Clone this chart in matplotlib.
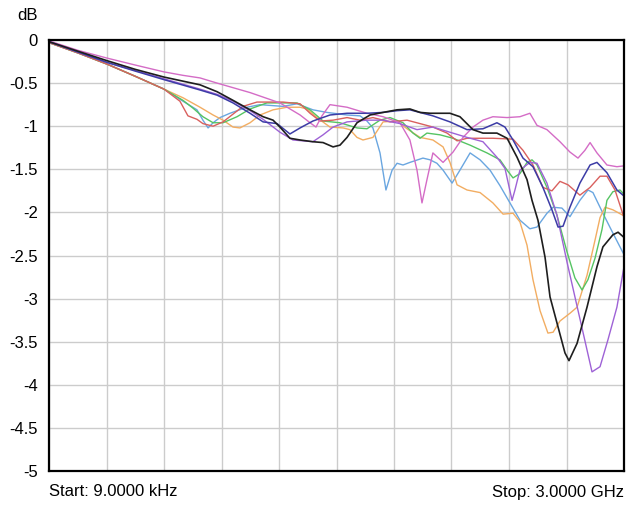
import matplotlib.pyplot as plt
import numpy as np

# frequency in MHz (9 kHz .. 3 GHz), level in dB
black_f = [0, 151, 303, 449, 600, 788, 877, 960, 1049, 1117, 1169, 1205, 1257, 1310, 1377, 1430, 1482, 1518, 1555, 1607,
           1675, 1743, 1816, 1883, 1936, 1988, 2092, 2144, 2212, 2264, 2337, 2390, 2442, 2494, 2520, 2551, 2588, 2614,
           2650, 2692, 2713, 2755, 2807, 2859, 2890, 2942, 2969, 3000]
black_db = [-0.02, -0.13, -0.24, -0.34, -0.43, -0.52, -0.60, -0.70, -0.81, -0.89, -0.93, -1.01, -1.14, -1.16, -1.18,
            -1.19, -1.24, -1.22, -1.13, -0.96, -0.87, -0.84, -0.81, -0.80, -0.84, -0.85, -0.85, -0.89, -1.04, -1.08,
            -1.08, -1.14, -1.36, -1.62, -1.86, -2.09, -2.52, -2.98, -3.28, -3.63, -3.72, -3.52, -3.10, -2.63, -2.40,
            -2.26, -2.23, -2.29]

navy_f = [0, 151, 303, 449, 600, 788, 877, 960, 1049, 1117, 1190, 1257, 1310, 1377, 1466, 1555, 1659, 1743, 1816, 1883,
          2003, 2092, 2181, 2264, 2337, 2379, 2421, 2473, 2525, 2577, 2624, 2656, 2682, 2718, 2770, 2823, 2859, 2911,
          2963, 3000]
navy_db = [-0.02, -0.14, -0.26, -0.36, -0.46, -0.58, -0.64, -0.73, -0.85, -0.95, -0.97, -1.09, -1.02, -0.94, -0.87,
           -0.85, -0.85, -0.84, -0.82, -0.81, -0.88, -0.95, -1.04, -1.03, -0.96, -1.01, -1.16, -1.37, -1.47, -1.71,
           -1.97, -2.17, -2.16, -1.94, -1.66, -1.45, -1.42, -1.54, -1.74, -1.81]

purple_f = [0, 303, 600, 788, 877, 960, 1049, 1117, 1205, 1273, 1377, 1430, 1482, 1555, 1659, 1743, 1831, 1920, 2003,
            2092, 2181, 2264, 2337, 2379, 2416, 2431, 2457, 2509, 2546, 2598, 2650, 2703, 2744, 2786, 2833, 2875, 2916,
            2963, 3000]
purple_db = [-0.02, -0.26, -0.45, -0.57, -0.63, -0.71, -0.82, -0.92, -1.07, -1.16, -1.18, -1.10, -1.01, -0.95, -0.93,
             -0.93, -0.97, -1.04, -1.01, -1.07, -1.13, -1.18, -1.36, -1.49, -1.86, -1.74, -1.51, -1.42, -1.43, -1.66,
             -2.03, -2.58, -2.98, -3.39, -3.85, -3.79, -3.48, -3.10, -2.63]

pink_f = [0, 151, 303, 449, 600, 699, 788, 877, 1049, 1205, 1310, 1362, 1393, 1424, 1466, 1555, 1659, 1743, 1831, 1883,
          1920, 1946, 1972, 2003, 2056, 2108, 2160, 2212, 2264, 2316, 2390, 2457, 2509, 2546, 2598, 2666, 2718, 2760,
          2796, 2823, 2859, 2911, 2963, 3000]
pink_db = [-0.01, -0.12, -0.21, -0.29, -0.37, -0.41, -0.44, -0.50, -0.61, -0.73, -0.87, -0.96, -1.01, -0.88, -0.75,
           -0.78, -0.85, -0.89, -0.96, -1.16, -1.51, -1.89, -1.62, -1.31, -1.42, -1.30, -1.13, -1.01, -0.93, -0.89,
           -0.90, -0.89, -0.85, -0.99, -1.04, -1.18, -1.30, -1.37, -1.28, -1.19, -1.31, -1.45, -1.47, -1.46]

red_f = [0, 151, 303, 449, 600, 683, 725, 772, 803, 856, 908, 960, 1012, 1085, 1221, 1310, 1362, 1414, 1482, 1555,
         1623, 1690, 1779, 1868, 1936, 2003, 2077, 2129, 2181, 2316, 2421, 2473, 2525, 2577, 2624, 2666, 2708, 2770,
         2823, 2875, 2911, 2953, 3000]
red_db = [-0.03, -0.15, -0.28, -0.42, -0.57, -0.71, -0.88, -0.92, -0.97, -1.00, -0.95, -0.86, -0.77, -0.72, -0.72,
          -0.74, -0.85, -0.94, -0.93, -0.90, -0.93, -0.90, -0.95, -0.93, -0.97, -1.01, -1.08, -1.17, -1.14, -1.14,
          -1.15, -1.28, -1.45, -1.71, -1.75, -1.64, -1.68, -1.80, -1.71, -1.58, -1.58, -1.74, -2.06]

orange_f = [0, 151, 303, 449, 600, 699, 788, 856, 908, 960, 996, 1049, 1101, 1169, 1242, 1310, 1346, 1398, 1466, 1534,
            1570, 1607, 1638, 1690, 1743, 1816, 1868, 1936, 2003, 2056, 2092, 2129, 2181, 2249, 2316, 2369, 2421, 2457,
            2494, 2525, 2562, 2603, 2630, 2666, 2718, 2755, 2807, 2849, 2875, 2901, 2942, 3000]
orange_db = [-0.03, -0.15, -0.28, -0.42, -0.57, -0.67, -0.78, -0.87, -0.93, -1.01, -1.02, -0.96, -0.87, -0.81, -0.78,
             -0.78, -0.80, -0.90, -1.01, -1.02, -1.04, -1.13, -1.16, -1.13, -0.95, -0.94, -1.03, -1.13, -1.16, -1.24,
             -1.42, -1.68, -1.74, -1.77, -1.89, -2.02, -2.01, -2.11, -2.38, -2.78, -3.14, -3.40, -3.39, -3.26, -3.17,
             -3.10, -2.73, -2.32, -2.06, -1.94, -1.97, -2.04]

green_f = [0, 151, 303, 449, 600, 699, 751, 803, 856, 908, 981, 1049, 1137, 1294, 1362, 1430, 1518, 1607, 1659, 1727,
           1779, 1847, 1899, 1936, 1972, 2040, 2108, 2197, 2285, 2353, 2390, 2421, 2457, 2494, 2520, 2546, 2598, 2650,
           2703, 2744, 2781, 2812, 2849, 2885, 2911, 2942, 2979, 3000]
green_db = [-0.03, -0.15, -0.28, -0.42, -0.57, -0.70, -0.79, -0.89, -0.96, -0.96, -0.89, -0.80, -0.73, -0.73, -0.81,
            -0.94, -0.96, -1.02, -1.03, -0.93, -0.90, -0.96, -1.08, -1.14, -1.08, -1.10, -1.14, -1.22, -1.31, -1.39,
            -1.51, -1.60, -1.55, -1.42, -1.39, -1.45, -1.71, -2.03, -2.46, -2.76, -2.90, -2.78, -2.53, -2.20, -1.86,
            -1.76, -1.74, -1.79]

blue_f = [0, 151, 303, 449, 600, 699, 772, 803, 830, 856, 892, 944, 1033, 1101, 1221, 1294, 1377, 1450, 1555, 1623,
          1659, 1690, 1727, 1758, 1790, 1816, 1847, 1883, 1951, 1988, 2024, 2056, 2103, 2144, 2197, 2249, 2301, 2353,
          2405, 2457, 2509, 2546, 2598, 2630, 2676, 2718, 2770, 2812, 2838, 2890, 2942, 3000]
blue_db = [-0.03, -0.15, -0.28, -0.42, -0.57, -0.71, -0.81, -0.93, -1.02, -0.96, -0.90, -0.85, -0.78, -0.75, -0.77,
           -0.74, -0.81, -0.84, -0.87, -0.88, -0.94, -1.02, -1.31, -1.74, -1.51, -1.43, -1.45, -1.42, -1.37, -1.39,
           -1.43, -1.51, -1.66, -1.51, -1.31, -1.39, -1.51, -1.69, -1.89, -2.09, -2.19, -2.17, -2.01, -1.94, -1.95,
           -2.05, -1.86, -1.74, -1.77, -2.01, -2.24, -2.49]

y_ticks = [0, -0.5, -1, -1.5, -2, -2.5, -3, -3.5, -4, -4.5, -5]
y_labels = ['0', '-0.5', '-1', '-1.5', '-2', '-2.5', '-3', '-3.5', '-4', '-4.5', '-5']

plt.rcParams['font.family'] = ['Liberation Sans', 'DejaVu Sans']

fig = plt.figure(figsize=(6.26, 5.08), dpi=100)
ax = fig.add_axes([49 / 626, 37 / 508, 575 / 626, 431 / 508])

traces = [
    (blue_f, blue_db, '#6aa6e0', 1.0),
    (orange_f, orange_db, '#f2ad62', 1.0),
    (green_f, green_db, '#55c463', 1.0),
    (red_f, red_db, '#d9605e', 1.0),
    (pink_f, pink_db, '#d46cc6', 1.0),
    (purple_f, purple_db, '#9e62d6', 1.0),
    (navy_f, navy_db, '#3c3ca6', 1.1),
    (black_f, black_db, '#1e1e1e', 1.2),
]
for f, db, c, w in traces:
    ax.plot(f, db, color=c, lw=w, solid_joinstyle='round')

ax.set_xlim(0, 3000)
ax.set_ylim(-5, 0)
ax.set_xticks(np.arange(0, 3001, 300))
ax.set_xticklabels([])
ax.set_yticks(y_ticks)
ax.set_yticklabels(y_labels, fontsize=12)
ax.tick_params(length=0, pad=8)
ax.grid(True, color='#cccccc', lw=1.0)
ax.set_axisbelow(True)
for s in ax.spines.values():
    s.set_linewidth(1.6)
    s.set_color('black')

fig.text(38 / 626, 1 - 16 / 508, 'dB', ha='right', va='center', fontsize=12)
fig.text(49 / 626, 1 - 492 / 508, 'Start: 9.0000 kHz', ha='left', va='center', fontsize=12)
fig.text(624 / 626, 1 - 492 / 508, 'Stop: 3.0000 GHz', ha='right', va='center', fontsize=12)

fig.savefig('out.png', dpi=100)
